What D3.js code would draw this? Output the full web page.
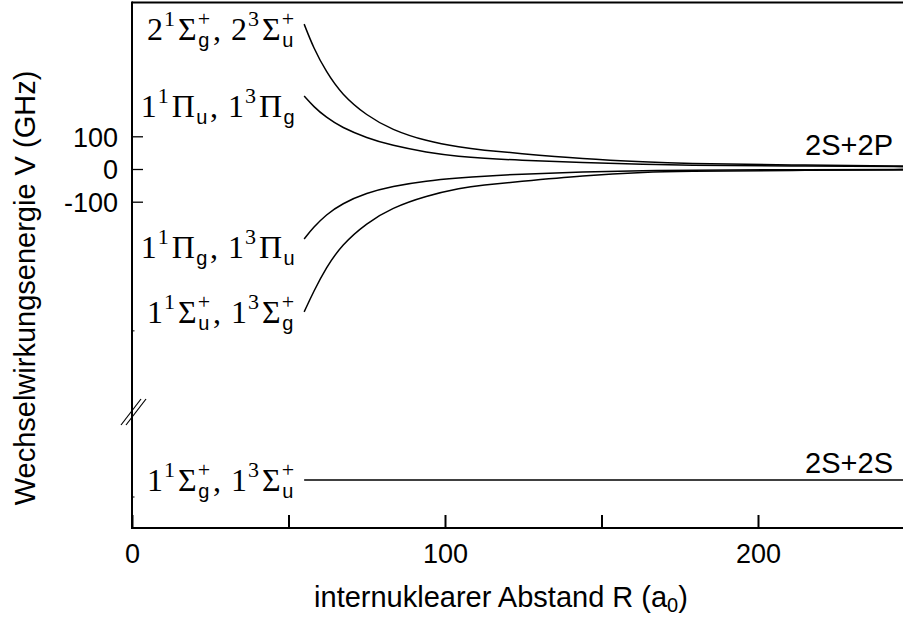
<!DOCTYPE html>
<html>
<head>
<meta charset="utf-8">
<script src="https://cdn.jsdelivr.net/npm/d3@7"></script>
<style>
body { margin: 0; background: #fff; }
svg { display: block; }
.ax text { font-family: "Liberation Sans", Arial, sans-serif; font-size: 27px; fill: #000; }
.title { font-family: "Liberation Sans", Arial, sans-serif; font-size: 29px; fill: #000; }
.mm { font-family: "Liberation Serif", serif; font-size: 32px; white-space: pre; }
.ms { font-family: "Liberation Serif", serif; font-size: 22px; }
.mb { font-family: "Liberation Sans", sans-serif; font-size: 20px; }
</style>
</head>
<body>
<div id="chart"></div>
<script>
// internuclear distance R (a0)
const R = [55, 58, 62, 67, 75, 83, 94, 105, 112, 123, 144, 165, 175, 210, 250]
// interaction energy V (GHz) relative to 2S+2P
const sigmaUp  = [443, 370, 298, 228, 163, 120, 85, 66, 58, 48, 31, 21, 17, 12, 9]
const piUp     = [223, 191, 158, 127, 95, 72, 51, 38, 33, 27, 19, 14, 12, 9, 7]
const piLow    = [-214, -178, -140, -106, -73, -53, -36, -27, -22, -16, -9, -5, -4, -2, -1]
const sigmaLow = [-437, -375, -302, -232, -165, -119, -82, -58, -49, -39, -20, -9, -7, -4, -3]
// 2S+2S level (below the axis break, relative to its own asymptote)
const groundR = [55, 250]
const groundV = [0, 0]

const xTicks = [0, 50, 100, 150, 200]
const xTickLabels = ["0", "", "100", "", "200"]
const yTicks = [-100, 0, 100]
const yTickLabels = ["-100", "0", "100"]

// state labels: [main, superscript, subscript]
const labelUpSigma = [["2", "1"], ["Σ", "+", "g"], [",\u00a0"], ["2", "3"], ["Σ", "+", "u"]]
const labelUpPi    = [["1", "1"], ["Π", null, "u"], [",\u00a0"], ["1", "3"], ["Π", null, "g"]]
const labelLowPi   = [["1", "1"], ["Π", null, "g"], [",\u00a0"], ["1", "3"], ["Π", null, "u"]]
const labelLowSigma= [["1", "1"], ["Σ", "+", "u"], [",\u00a0"], ["1", "3"], ["Σ", "+", "g"]]
const labelGround  = [["1", "1"], ["Σ", "+", "g"], [",\u00a0"], ["1", "3"], ["Σ", "+", "u"]]
const asymptotes = ["2S+2P", "2S+2S"]

const W = 903, H = 619
const axLeft = 132, axBottom = 528, axTop = 2.5

const svg = d3.select("#chart").append("svg")
    .attr("width", W)
    .attr("height", H)

const x = d3.scaleLinear().domain([0, 250]).range([axLeft, axLeft + 250 * 3.13])
// upper part of the broken axis (GHz)
const yUp = d3.scaleLinear().domain([0, 100]).range([169, 136.3])
// lower part, same GHz per pixel, own zero
const yLow = d3.scaleLinear().domain([0, 100]).range([480, 447.3])

// frame
svg.append("line")
    .attr("x1", axLeft).attr("x2", W)
    .attr("y1", axTop).attr("y2", axTop)
    .attr("stroke", "#000").attr("stroke-width", 2)
svg.append("line")
    .attr("x1", axLeft).attr("x2", axLeft)
    .attr("y1", axTop - 1).attr("y2", axBottom + 1)
    .attr("stroke", "#000").attr("stroke-width", 2)
svg.append("line")
    .attr("x1", axLeft - 1).attr("x2", W)
    .attr("y1", axBottom).attr("y2", axBottom)
    .attr("stroke", "#000").attr("stroke-width", 2)

// axes
const xAxis = d3.axisBottom(x)
    .tickValues(xTicks)
    .tickSizeInner(-13)
    .tickSizeOuter(0)
    .tickPadding(16)
    .tickFormat((d, i) => xTickLabels[i])
const gx = svg.append("g").attr("class", "ax")
    .attr("transform", "translate(0," + axBottom + ")")
    .call(xAxis)
gx.select(".domain").remove()
gx.selectAll(".tick line").attr("stroke", "#000").attr("stroke-width", 2)

const yAxis = d3.axisLeft(yUp)
    .tickValues(yTicks)
    .tickSizeInner(-11)
    .tickSizeOuter(0)
    .tickPadding(14)
    .tickFormat((d, i) => yTickLabels[i])
const gy = svg.append("g").attr("class", "ax")
    .attr("transform", "translate(" + axLeft + ",0)")
    .call(yAxis)
gy.select(".domain").remove()
gy.selectAll(".tick line").attr("stroke", "#000").attr("stroke-width", 1.3)
gy.selectAll(".tick text").attr("dy", "0.36em")

// small marks on the axis
;[yUp(-495), yLow(-52)].forEach(yy => {
    svg.append("line").attr("x1", axLeft).attr("x2", axLeft + 2.5)
        .attr("y1", yy).attr("y2", yy).attr("stroke", "#000").attr("stroke-width", 1)
})

// axis break
const breakY = 411
;[0, 5].forEach(o => {
    svg.append("line")
        .attr("x1", axLeft - 11 + o).attr("y1", breakY + 14)
        .attr("x2", axLeft + 9 + o).attr("y2", breakY - 12)
        .attr("stroke", "#000").attr("stroke-width", 1.2)
})

// curves
const line = d3.line()
    .x(d => x(d[0]))
    .y(d => yUp(d[1]))
    .curve(d3.curveBasis)
const series = [sigmaUp, piUp, piLow, sigmaLow]
series.forEach(s => {
    svg.append("path")
        .datum(R.map((r, i) => [r, s[i]]))
        .attr("d", line)
        .attr("fill", "none")
        .attr("stroke", "#000")
        .attr("stroke-width", 1.5)
})
svg.append("path")
    .datum(groundR.map((r, i) => [r, groundV[i]]))
    .attr("d", d3.line().x(d => x(d[0])).y(d => yLow(d[1])))
    .attr("fill", "none")
    .attr("stroke", "#000")
    .attr("stroke-width", 1.5)

// state labels
function mathLabel(parts, xRight, yBase) {
    const g = svg.append("g")
    let cx = 0
    parts.forEach(p => {
        const m = g.append("text").attr("class", "mm").attr("x", cx).attr("y", 0).text(p[0])
        cx += m.node().getComputedTextLength()
        let w = 0
        if (p[1]) {
            const s = g.append("text").attr("class", "ms").attr("x", cx + 1).attr("y", -14).text(p[1])
            w = Math.max(w, s.node().getComputedTextLength() + 2)
        }
        if (p[2]) {
            const s = g.append("text").attr("class", "mb").attr("x", cx + 1.5).attr("y", 7).text(p[2])
            w = Math.max(w, s.node().getComputedTextLength() + 2)
        }
        cx += w + 2
    })
    cx -= 2
    g.attr("transform", "translate(" + (xRight - cx) + "," + yBase + ")")
}
const labelRight = x(R[0]) - 9
mathLabel(labelUpSigma, labelRight, yUp(sigmaUp[0]) + 16)
mathLabel(labelUpPi, labelRight, yUp(piUp[0]) + 21)
mathLabel(labelLowPi, labelRight, yUp(piLow[0]) + 19)
mathLabel(labelLowSigma, labelRight, yUp(sigmaLow[0]) + 11)
mathLabel(labelGround, labelRight, yLow(groundV[0]) + 11)

// asymptote labels
svg.append("text").attr("class", "title")
    .attr("x", 893).attr("y", yUp(0) - 14)
    .attr("text-anchor", "end")
    .text(asymptotes[0])
svg.append("text").attr("class", "title")
    .attr("x", 893).attr("y", yLow(0) - 7)
    .attr("text-anchor", "end")
    .text(asymptotes[1])

// axis titles
const xt = svg.append("text").attr("class", "title")
    .attr("x", 501).attr("y", 607)
    .attr("text-anchor", "middle")
xt.append("tspan").text("internuklearer Abstand R (a")
xt.append("tspan").attr("font-size", 20).attr("dy", 5).text("0")
xt.append("tspan").attr("dy", -5).text(")")

svg.append("text").attr("class", "title")
    .attr("transform", "translate(35,288) rotate(-90)")
    .attr("text-anchor", "middle")
    .text("Wechselwirkungsenergie V (GHz)")
</script>
</body>
</html>
